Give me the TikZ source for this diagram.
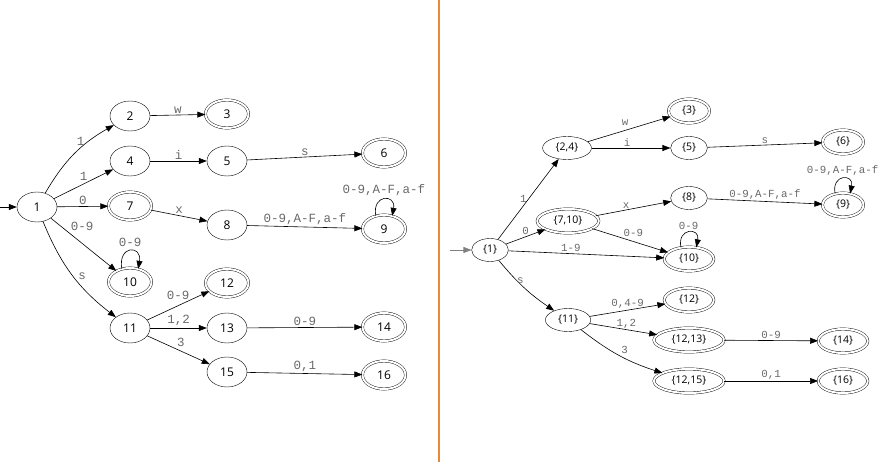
\documentclass[tikz,border=0pt]{standalone}
\usepackage{fontspec}
\setmainfont{Open Sans}
\newfontfamily\edgefont{Liberation Mono}
\usetikzlibrary{shapes,
	arrows.meta,
	calc,
	positioning}
\definecolor{divider}{RGB}{232,136,58}
\definecolor{lblgray}{RGB}{105,105,105}
\tikzstyle{st}=[draw, ellipse, minimum width=40pt, minimum height=30pt, inner sep=0,
		font=\fontsize{12}{12}\selectfont]
\tikzstyle{acc}=[st, double, double distance=2pt, minimum width=43pt, minimum height=28pt]
\tikzstyle{dst}=[draw, ellipse, minimum width=36pt, minimum height=23pt, inner xsep=6pt,
		inner ysep=1pt, font=\fontsize{10.5}{10.5}\selectfont]
\tikzstyle{dacc}=[dst, double, double distance=2pt, inner xsep=7.5pt, minimum height=24pt]
\tikzstyle{tr}=[draw, -{Triangle[length=8pt,width=6pt]}, line width=0.6pt]
\tikzstyle{lbl}=[text=lblgray, inner sep=1.5pt, font=\edgefont\fontsize{12.5}{12.5}\selectfont]
\tikzstyle{dlbl}=[text=lblgray, inner sep=1.5pt, font=\edgefont\fontsize{10.8}{10.8}\selectfont]

\begin{document}
\begin{tikzpicture}[x=1pt, y=-1pt]
	\useasboundingbox (0,0) rectangle (885,462);
	\draw[divider, line width=2pt] (439,0) -- (439,462);

	% NFA
	\coordinate (ls) at (0,207);
	\node[st] (l1) at (37,207) {1};
	\node[st] (l2) at (130,116) {2};
	\node[acc] (l3) at (227,114) {3};
	\node[st] (l4) at (130,161) {4};
	\node[st] (l5) at (227,161) {5};
	\node[acc] (l6) at (384,153) {6};
	\node[acc] (l7) at (130,206) {7};
	\node[st] (l8) at (227,225) {8};
	\node[acc] (l9) at (384,229) {9};
	\node[acc] (l10) at (130,282) {10};
	\node[st] (l11) at (130,328) {11};
	\node[acc] (l12) at (227,283) {12};
	\node[st] (l13) at (227,328) {13};
	\node[acc] (l14) at (384,327) {14};
	\node[st] (l15) at (227,372) {15};
	\node[acc] (l16) at (384,375) {16};

	\draw[tr] (ls) -- (l1);
	\draw[tr] (l1) to[bend left=15] node[lbl, above left=-1pt, pos=0.62, xshift=3pt] {1} (l2);
	\draw[tr] (l1) -- node[lbl, above=2pt, pos=0.5] {1} (l4);
	\draw[tr] (l1) -- node[lbl, above] {0} (l7);
	\draw[tr] (l1) -- node[lbl, above right=0pt, pos=0.28] {0-9} (l10);
	\draw[tr] (l1) to[bend right=15] node[lbl, above right=-3pt, pos=0.55, xshift=3pt] {s} (l11);
	\draw[tr] (l2) -- node[lbl, above] {w} (l3);
	\draw[tr] (l4) -- node[lbl, above] {i} (l5);
	\draw[tr] (l5) -- node[lbl, above] {s} (l6);
	\draw[tr] (l7) -- node[lbl, above] {x} (l8);
	\draw[tr] (l8) -- node[lbl, above] {0-9,A-F,a-f} (l9);
	\draw[tr] (l9.122) .. controls +(-4,-22) and +(4,-22) .. node[lbl, above=2pt] {0-9,A-F,a-f} (l9.58);
	\draw[tr] (l10.122) .. controls +(-4,-24) and +(4,-24) .. node[lbl, above=2pt] {0-9} (l10.58);
	\draw[tr] (l11) -- node[lbl, above=4pt, pos=0.5] {0-9} (l12);
	\draw[tr] (l11) -- node[lbl, above] {1,2} (l13);
	\draw[tr] (l11) -- node[lbl, above right, pos=0.45] {3} (l15);
	\draw[tr] (l13) -- node[lbl, above] {0-9} (l14);
	\draw[tr] (l15) -- node[lbl, above] {0,1} (l16);

	% DFA
	\coordinate (rs) at (450,250);
	\node[dst] (r1) at (490,250) {\{1\}};
	\node[dst] (r24) at (567,148) {\{2,4\}};
	\node[dacc] (r3) at (689,111) {\{3\}};
	\node[dst] (r5) at (689,148) {\{5\}};
	\node[dacc] (r6) at (843,142) {\{6\}};
	\node[dacc] (r710) at (568,221) {\{7,10\}};
	\node[dst] (r8) at (689,198) {\{8\}};
	\node[dacc] (r9) at (843,205) {\{9\}};
	\node[dacc] (r10) at (689,259) {\{10\}};
	\node[dst] (r11) at (568,320) {\{11\}};
	\node[dacc] (r12) at (689,300) {\{12\}};
	\node[dacc] (r1213) at (689,340) {\{12,13\}};
	\node[dacc] (r14) at (843,341) {\{14\}};
	\node[dacc] (r1215) at (689,381) {\{12,15\}};
	\node[dacc] (r16) at (843,381) {\{16\}};

	\draw[tr, draw=gray] (rs) -- (r1);
	\draw[tr] (r1) -- node[dlbl, left] {1} (r24);
	\draw[tr] (r1) -- node[dlbl, above] {0} (r710);
	\draw[tr] (r1) -- node[dlbl, above, pos=0.4] {1-9} (r10);
	\draw[tr] (r1) to[bend right=8] node[dlbl, above right=-2pt, pos=0.35, yshift=-3pt] {s} (r11);
	\draw[tr] (r24) -- node[dlbl, above=3pt, pos=0.45] {w} (r3);
	\draw[tr] (r24) -- node[dlbl, above, pos=0.45] {i} (r5);
	\draw[tr] (r5) -- node[dlbl, above] {s} (r6);
	\draw[tr] (r710) -- node[dlbl, above, pos=0.4] {x} (r8);
	\draw[tr] (r710) -- node[dlbl, above right=-1pt, pos=0.4] {0-9} (r10);
	\draw[tr] (r8) -- node[dlbl, above] {0-9,A-F,a-f} (r9);
	\draw[tr] (r9.125) .. controls +(-4,-20) and +(4,-20) .. node[dlbl, above=1pt] {0-9,A-F,a-f} (r9.58);
	\draw[tr] (r10.125) .. controls +(-4,-20) and +(4,-20) .. node[dlbl, above=1pt] {0-9} (r10.58);
	\draw[tr] (r11) -- node[dlbl, above] {0,4-9} (r12);
	\draw[tr] (r11) -- node[dlbl, above=-1pt, xshift=3pt] {1,2} (r1213);
	\draw[tr] (r11) to[bend right=10] node[dlbl, above right] {3} (r1215);
	\draw[tr] (r1213) -- node[dlbl, above] {0-9} (r14);
	\draw[tr] (r1215) -- node[dlbl, above] {0,1} (r16);
\end{tikzpicture}
\end{document}
